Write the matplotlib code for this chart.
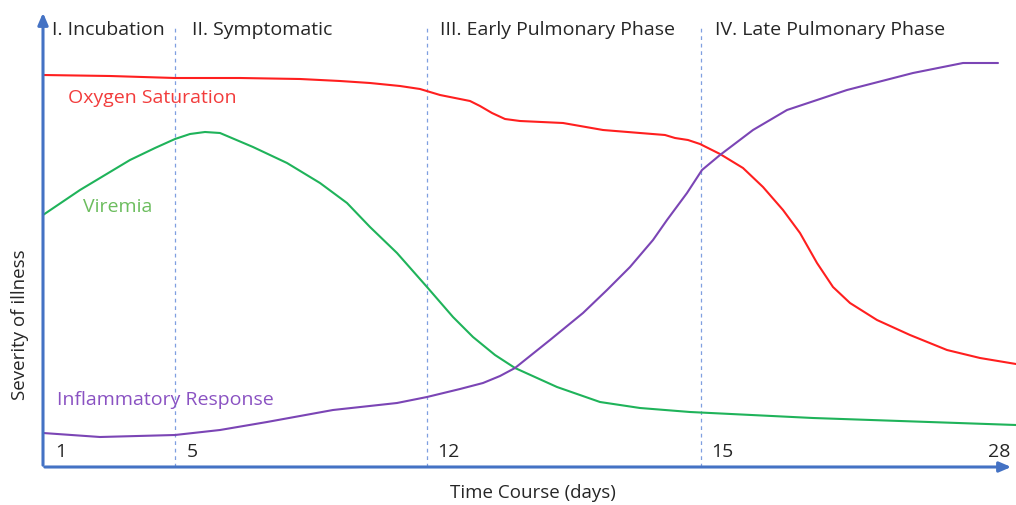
import matplotlib
matplotlib.use("Agg")
import matplotlib.pyplot as plt

# time-course position (arbitrary schematic units) and severity (arbitrary units)
o2_x = [0, 67, 132, 197, 257, 297, 327, 357, 377, 387, 397, 412, 427, 437, 449, 462,
        477, 520, 560, 597, 622, 632, 645, 657, 677, 700, 720, 740, 757, 774, 790,
        807, 834, 867, 904, 937, 973]
o2_y = [392, 391, 389, 389, 388, 386, 384, 381, 378, 375, 372, 369, 366, 361, 354, 348,
        346, 344, 337, 334, 332, 329, 327, 323, 313, 299, 280, 257, 234, 204, 180,
        164, 147, 132, 117, 109, 103]

vir_x = [0, 37, 87, 112, 132, 147, 162, 177, 210, 244, 277, 304, 327, 354, 384, 410,
         430, 452, 472, 514, 557, 597, 647, 770, 973]
vir_y = [252, 277, 307, 319, 328, 333, 335, 334, 320, 304, 284, 264, 240, 214, 180, 150,
         130, 112, 99, 80, 65, 59, 55, 49, 42]

inf_x = [0, 57, 132, 177, 224, 290, 354, 384, 417, 440, 457, 472, 507, 540, 564, 587,
         610, 624, 644, 659, 677, 710, 744, 804, 870, 920, 955]
inf_y = [34, 30, 32, 37, 45, 57, 64, 70, 78, 84, 91, 99, 127, 154, 177, 200,
         227, 247, 274, 297, 312, 337, 357, 377, 394, 404, 404]

day_labels = ["1", "5", "12", "15", "28"]
day_pos = [0, 132, 384, 658, 960]
phase_labels = ["I. Incubation", "II. Symptomatic", "III. Early Pulmonary Phase",
                "IV. Late Pulmonary Phase"]
phase_pos = [9, 149, 397, 672]

plt.rcParams["font.family"] = ["Open Sans", "DejaVu Sans"]
FS = 14

fig = plt.figure(figsize=(10.16, 5.05), dpi=100)
ax = fig.add_axes([43 / 1016, 38 / 505, 973 / 1016, 467 / 505])
ax.set_xlim(0, 973)
ax.set_ylim(0, 467)
ax.axis("off")

# phase boundaries
for p in day_pos[1:4]:
    ax.plot([p, p], [0, 440], color="#7f9fe0", lw=0.9, ls=(0, (3, 3)))

line_kw = dict(lw=1.5, solid_capstyle="round", solid_joinstyle="round")
ax.plot(o2_x, o2_y, color="#ff1f1f", **line_kw)
ax.plot(vir_x, vir_y, color="#1fb35a", **line_kw)
ax.plot(inf_x, inf_y, color="#7b45b5", **line_kw)

# axes arrows
axcol = "#4472c4"
ax.annotate("", xy=(0, 457), xytext=(0, -1),
            arrowprops=dict(arrowstyle="-|>,head_width=0.3,head_length=0.7", color=axcol, lw=2.2))
ax.annotate("", xy=(971, 0), xytext=(-1, 0),
            arrowprops=dict(arrowstyle="-|>,head_width=0.3,head_length=0.7", color=axcol, lw=2.2))

for lab, p in zip(phase_labels, phase_pos):
    ax.text(p, 437, lab, fontsize=FS, color="#262626", va="center", ha="left")

for lab, p in zip(day_labels, day_pos):
    if lab == "28":
        ax.text(p + 7, 15, lab, fontsize=FS, color="#262626", va="center", ha="right")
    else:
        ax.text(p + 12 - (2 if lab in ("12", "15") else 0), 15, lab, fontsize=FS,
                color="#262626", va="center", ha="left")

ax.text(25, 369, "Oxygen Saturation", fontsize=FS, color="#f23c3c", va="center")
ax.text(40, 260, "Viremia", fontsize=FS, color="#6cbd5e", va="center")
ax.text(14, 67, "Inflammatory Response", fontsize=FS, color="#8a52c2", va="center")

fig.text(533 / 1016, 1 - 493 / 505, "Time Course (days)", fontsize=FS - 0.5, color="#262626",
         ha="center", va="center")
fig.text(20 / 1016, 1 - 325 / 505, "Severity of illness", fontsize=FS - 0.5, color="#262626",
         ha="center", va="center", rotation=90)

fig.savefig("out.png", dpi=100)
